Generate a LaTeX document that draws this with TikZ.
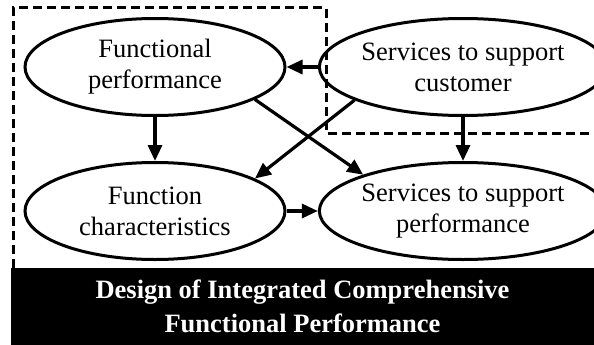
\documentclass[tikz,border=0pt]{standalone}
\usepackage{fontspec}
\setmainfont{Liberation Serif}
\usepackage{tikz}
\usetikzlibrary{arrows.meta,shapes.geometric}

\tikzset{
  oval/.style={ellipse,draw,line width=3pt,minimum width=260pt,minimum height=97pt,
    inner sep=0pt,align=center,font=\fontsize{26.5}{31}\selectfont},
  flow/.style={line width=3.2pt,-{Triangle[length=16pt,width=14pt]}},
  banner/.style={fill=black,text=white,minimum width=583pt,minimum height=77pt,
    inner sep=0pt,align=center,font=\fontsize{26.5}{34}\selectfont\bfseries}
}

\begin{document}
\begin{tikzpicture}[x=1pt,y=-1pt]
\path[use as bounding box] (0,0) rectangle (594,345);
% boundary of the functional part
\draw[line width=3pt,dash pattern=on 9pt off 5pt] (13,268)--(13,8)--(326,8)--(326,133)--(594,133);
\node[oval] (fp) at (155,67) {Functional\\performance};
\node[oval] (ssc) at (463,67) {Services to support\\customer};
\node[oval] (fc) at (155,211) {Function\\characteristics};
\node[oval] (ssp) at (463,211) {Services to support\\performance};
\node[banner] (dsg) at (302.5,306.5) {Design of Integrated Comprehensive\\Functional Performance};
\draw[flow] (ssc.west)--(fp.east);
\draw[flow] (fp.south)--(fc.north);
\draw[flow] (ssc.south)--(ssp.north);
\draw[flow] (fc.east)--(ssp.west);
\draw[flow] (fp.-18)--(ssp.160);
\draw[flow] (ssc.197)--(fc.18);
\end{tikzpicture}
\end{document}
